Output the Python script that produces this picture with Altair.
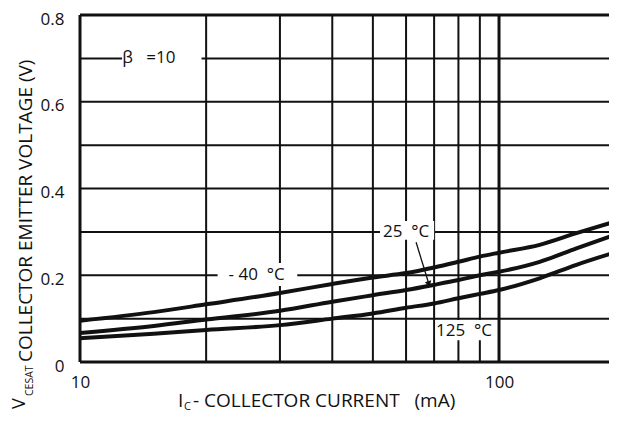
import altair as alt
import pandas as pd

# ---- data ----
current_ma = [10, 15, 20, 30, 40, 50, 60, 70, 80, 90, 100, 125, 153, 191]
vce_top = [0.095, 0.115, 0.133, 0.159, 0.180, 0.195, 0.205, 0.218, 0.231, 0.243, 0.252, 0.270, 0.297, 0.325]
vce_mid = [0.067, 0.083, 0.098, 0.118, 0.139, 0.154, 0.166, 0.178, 0.189, 0.200, 0.208, 0.231, 0.262, 0.295]
vce_bot = [0.055, 0.065, 0.074, 0.085, 0.100, 0.112, 0.125, 0.135, 0.147, 0.157, 0.166, 0.193, 0.224, 0.254]
series_names = ["-40 °C", "25 °C", "125 °C"]

x_grid = [20, 30, 40, 50, 60, 70, 80, 90]
y_grid = [0.1, 0.2, 0.3, 0.4, 0.5, 0.6, 0.7]
x_ticks = [10, 100]
y_ticks = [0, 0.2, 0.4, 0.6, 0.8]

NB = "\u00a0"
ann_text = ["β" + NB * 3 + "=10", "-" + NB + "40" + NB * 2 + "°C", "25" + NB * 2 + "°C", "125" + NB * 2 + "°C"]
ann_x = [14.6, 26.4, 60.0, 82.5]
ann_y = [0.70, 0.20, 0.30, 0.072]
gap_x1 = [12.6, 21.3, 52.0, 70.5]
gap_x2 = [19.5, 33.0, 70.0, 96.5]
gap_y1 = [0.675, 0.175, 0.282, 0.050]
gap_y2 = [0.725, 0.228, 0.325, 0.097]

arrow_x = [63.4, 67.9]
arrow_y = [0.276, 0.182]

XMAX = 183
INK = "#111111"
FONT = "Open Sans"

rows = []
for name, vals in zip(series_names, [vce_top, vce_mid, vce_bot]):
    for c, v in zip(current_ma, vals):
        rows.append({"series": name, "I": c, "V": v})
curves_df = pd.DataFrame(rows)

xs = alt.Scale(type="log", domain=[10, XMAX], nice=False)
ys = alt.Scale(domain=[0, 0.8], nice=False)
x_axis = alt.Axis(values=x_ticks, labelExpr="datum.value == 10 ? '10' : datum.value == 100 ? '100' : ''",
                  ticks=False, domain=False, grid=False, title=None, labelFont=FONT,
                  labelFontSize=17, labelColor=INK, labelPadding=12, labelFlush=False)
y_axis = alt.Axis(values=y_ticks, labelExpr="datum.value == 0 ? '0' : format(datum.value, '.1f')",
                  ticks=False, domain=False, grid=False, title=None, labelFont=FONT,
                  labelFontSize=17, labelColor=INK, labelPadding=16, labelOffset=4)

curves = alt.Chart(curves_df).mark_line(
    color=INK, strokeWidth=4, interpolate="monotone", clip=True
).encode(
    x=alt.X("I:Q", scale=xs, axis=x_axis),
    y=alt.Y("V:Q", scale=ys, axis=y_axis),
    detail="series:N",
)

vgrid = alt.Chart(pd.DataFrame({"g": x_grid})).mark_rule(color=INK, strokeWidth=2).encode(
    x=alt.X("g:Q", scale=xs, axis=x_axis))
hgrid = alt.Chart(pd.DataFrame({"g": y_grid})).mark_rule(color=INK, strokeWidth=2).encode(
    y=alt.Y("g:Q", scale=ys, axis=y_axis))
vborder = alt.Chart(pd.DataFrame({"g": [10, 100]})).mark_rule(color=INK, strokeWidth=3).encode(
    x=alt.X("g:Q", scale=xs, axis=x_axis))
hborder = alt.Chart(pd.DataFrame({"g": [0, 0.8]})).mark_rule(color=INK, strokeWidth=3).encode(
    y=alt.Y("g:Q", scale=ys, axis=y_axis))

ann_df = pd.DataFrame({"t": ann_text, "x": ann_x, "y": ann_y,
                       "x1": gap_x1, "x2": gap_x2, "y1": gap_y1, "y2": gap_y2})
gaps = alt.Chart(ann_df).mark_rect(color="white").encode(
    x=alt.X("x1:Q", scale=xs, axis=x_axis), x2="x2:Q",
    y=alt.Y("y1:Q", scale=ys, axis=y_axis), y2="y2:Q")
labels = alt.Chart(ann_df).mark_text(font=FONT, fontSize=17, color=INK).encode(
    x=alt.X("x:Q", scale=xs, axis=x_axis),
    y=alt.Y("y:Q", scale=ys, axis=y_axis),
    text="t:N")

arrow_df = pd.DataFrame({"x": [arrow_x[0]], "y": [arrow_y[0]], "x2": [arrow_x[1]], "y2": [arrow_y[1]]})
arrow_line = alt.Chart(arrow_df).mark_rule(color=INK, strokeWidth=1.3).encode(
    x=alt.X("x:Q", scale=xs, axis=x_axis), x2="x2:Q",
    y=alt.Y("y:Q", scale=ys, axis=y_axis), y2="y2:Q")
arrow_head = alt.Chart(arrow_df).mark_point(
    shape="triangle", filled=True, color=INK, size=45, angle=163, opacity=1
).encode(x=alt.X("x2:Q", scale=xs, axis=x_axis), y=alt.Y("y2:Q", scale=ys, axis=y_axis))

# axis titles with subscripts, as text
def txt(t, px, py, size, angle=0, baseline="alphabetic"):
    return alt.Chart(pd.DataFrame({"t": [t]})).mark_text(
        font=FONT, fontSize=size, color=INK, align="left", baseline=baseline, angle=angle
    ).encode(x=alt.value(px), y=alt.value(py), text="t:N")

titles = [
    txt("V", -55, 394, 18, angle=270),
    txt("CESAT", -47, 381, 10.5, angle=270),
    txt("COLLECTOR EMITTER VOLTAGE (V)", -48, 347, 19, angle=270),
    txt("I", 98, 392, 19),
    txt("C", 104, 395, 11),
    txt("- COLLECTOR CURRENT" + NB * 3 + "(mA)", 113, 392, 19),
]

chart = alt.layer(
    vgrid, hgrid, gaps, vborder, hborder, curves, labels, arrow_line, arrow_head, *titles
).properties(
    width=529, height=347,
    autosize=alt.AutoSizeParams(type="none"),
    padding={"left": 72, "top": 7, "right": 0, "bottom": 53},
    background="white",
).configure_view(stroke=None)

chart.save("out.html", embed_options={"renderer": "svg", "actions": False})
